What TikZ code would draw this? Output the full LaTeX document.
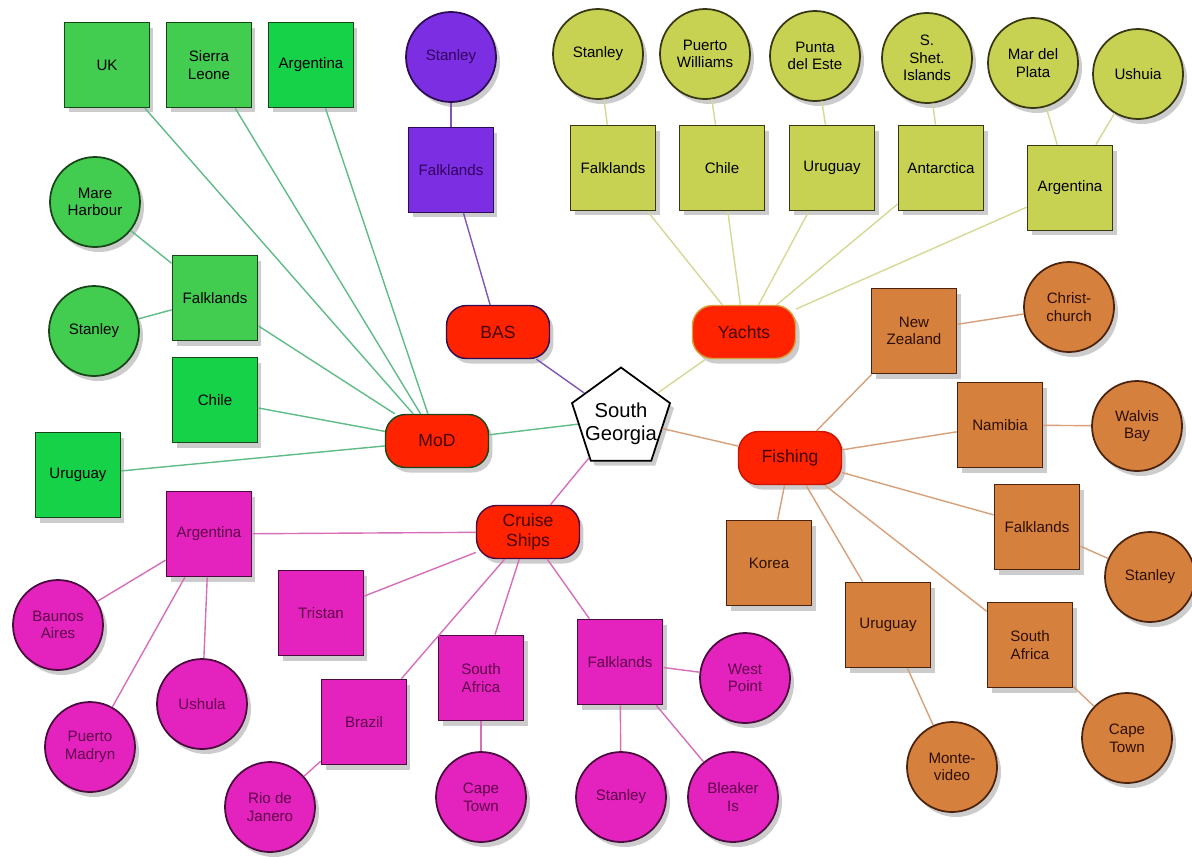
\documentclass[tikz,border=0pt]{standalone}
\usepackage{fontspec}
\setmainfont{Liberation Sans}
\usetikzlibrary{shapes.geometric,shadows}

\definecolor{hubred}{RGB}{255,35,0}
\definecolor{hubtext}{RGB}{70,0,0}
\definecolor{modfill}{RGB}{66,204,80}
\definecolor{modfillb}{RGB}{22,210,72}
\definecolor{modline}{RGB}{25,70,25}
\definecolor{modwire}{RGB}{95,188,135}
\definecolor{basfill}{RGB}{124,46,226}
\definecolor{basline}{RGB}{45,12,85}
\definecolor{baswire}{RGB}{130,85,180}
\definecolor{yfill}{RGB}{200,210,82}
\definecolor{yline}{RGB}{55,55,20}
\definecolor{ywire}{RGB}{215,215,150}
\definecolor{ffill}{RGB}{214,128,62}
\definecolor{fline}{RGB}{75,35,12}
\definecolor{fwire}{RGB}{215,160,122}
\definecolor{cfill}{RGB}{228,34,190}
\definecolor{cline}{RGB}{75,10,62}
\definecolor{cwire}{RGB}{215,110,185}

\begin{document}
\begin{tikzpicture}[x=0.02cm,y=-0.02cm,
  shade/.style={drop shadow={opacity=0.4,shadow xshift=0.8mm,shadow yshift=-1mm}},
  sq/.style={rectangle, minimum size=1.7cm, inner sep=1pt, line width=1pt, align=center,
    font=\fontsize{8.6}{10}\selectfont, shade},
  circ/.style={circle, minimum size=1.8cm, inner sep=1pt, line width=1pt, align=center,
    font=\fontsize{8.6}{10}\selectfont, shade},
  topic/.style={rectangle, rounded corners=0.4cm, minimum width=2.06cm, minimum height=1.06cm,
    fill=hubred, line width=0.8pt, align=center, text=hubtext,
    font=\fontsize{10}{11.5}\selectfont, shade},
  mod/.style={fill=modfill, draw=modline, text=black},
  modb/.style={fill=modfillb, draw=modline, text=black},
  bas/.style={fill=basfill, draw=basline, text={rgb,255:red,50;green,0;blue,95}},
  yac/.style={fill=yfill, draw=yline, text=black},
  fsh/.style={fill=ffill, draw=fline, text={rgb,255:red,45;green,15;blue,0}},
  crs/.style={fill=cfill, draw=cline, text={rgb,255:red,95;green,0;blue,75}},
  modedge/.style={draw=modwire, line width=0.8pt},
  basedge/.style={draw=baswire, line width=0.8pt},
  yedge/.style={draw=ywire, line width=0.8pt},
  fedge/.style={draw=fwire, line width=0.8pt},
  cedge/.style={draw=cwire, line width=0.8pt}]

  \path[use as bounding box] (0,0) rectangle (1192,856);

  \node[regular polygon, regular polygon sides=5, minimum size=2.06cm, inner sep=0pt, fill=white, draw=black,
    line width=1pt, font=\fontsize{11.5}{13}\selectfont, shade] (sg) at (621,419)
    {\smash{\makebox[0pt]{\raisebox{-6pt}{\begin{tabular}{@{}c@{}}South\\Georgia\end{tabular}}}}};

  \node[topic, draw=basline] (bas) at (498,332) {BAS};
  \node[topic, draw={rgb,255:red,215;green,160;blue,60}] (yachts) at (744,332) {Yachts};
  \node[topic, draw=modline] (mod) at (437,441) {MoD};
  \node[topic, draw={rgb,255:red,200;green,20;blue,0}] (fishing) at (790,458) {Fishing};
  \node[topic, draw=cline] (cruise) at (528,532) {Cruise\\Ships};

  % MoD
  \node[sq,mod] (modUK) at (107,65) {UK};
  \node[sq,mod] (modSL) at (209,65) {Sierra\\Leone};
  \node[sq,modb] (modAR) at (311,65) {Argentina};
  \node[sq,mod] (modFK) at (215,298) {Falklands};
  \node[sq,modb] (modCL) at (215,400) {Chile};
  \node[sq,modb] (modUY) at (78,475) {Uruguay};
  \node[circ,mod] (modMH) at (95,202) {Mare\\Harbour};
  \node[circ,mod] (modST) at (94,331) {Stanley};

  % BAS
  \node[circ,bas] (basST) at (451,57) {Stanley};
  \node[sq,bas] (basFK) at (451,170) {Falklands};

  % Yachts
  \node[circ,yac] (yST) at (598,54) {Stanley};
  \node[circ,yac] (yPW) at (705,54) {Puerto\\Williams};
  \node[circ,yac] (yPE) at (815,56) {Punta\\del Este};
  \node[circ,yac] (ySS) at (927,58) {S.\\Shet.\\Islands};
  \node[circ,yac] (yMP) at (1033,63) {Mar del\\Plata};
  \node[circ,yac] (yUS) at (1138,74) {Ushuia};
  \node[sq,yac] (yFK) at (613,168) {Falklands};
  \node[sq,yac] (yCL) at (722,168) {Chile};
  \node[sq,yac] (yUY) at (832,168) {Uruguay};
  \node[sq,yac] (yAN) at (941,168) {Antarctica};
  \node[sq,yac] (yAR) at (1070,188) {Argentina};

  % Fishing
  \node[sq,fsh] (fNZ) at (914,331) {New\\Zealand};
  \node[sq,fsh] (fNA) at (1000,425) {Namibia};
  \node[sq,fsh] (fFK) at (1037,527) {Falklands};
  \node[sq,fsh] (fKO) at (769,563) {Korea};
  \node[sq,fsh] (fUY) at (888,625) {Uruguay};
  \node[sq,fsh] (fSA) at (1030,645) {South\\Africa};
  \node[circ,fsh] (fCC) at (1069,307) {Christ-\\church};
  \node[circ,fsh] (fWB) at (1137,426) {Walvis\\Bay};
  \node[circ,fsh] (fST) at (1150,577) {Stanley};
  \node[circ,fsh] (fMV) at (952,767) {Monte-\\video};
  \node[circ,fsh] (fCT) at (1127,738) {Cape\\Town};

  % Cruise ships
  \node[sq,crs] (cAR) at (209,534) {Argentina};
  \node[sq,crs] (cTR) at (321,613) {Tristan};
  \node[sq,crs] (cBR) at (364,722) {Brazil};
  \node[sq,crs] (cSA) at (481,678) {South\\Africa};
  \node[sq,crs] (cFK) at (620,662) {Falklands};
  \node[circ,crs] (cBA) at (58,625) {Baunos\\Aires};
  \node[circ,crs] (cUS) at (202,704) {Ushula};
  \node[circ,crs] (cPM) at (90,747) {Puerto\\Madryn};
  \node[circ,crs] (cRJ) at (270,807) {Rio de\\Janero};
  \node[circ,crs] (cCT) at (481,797) {Cape\\Town};
  \node[circ,crs] (cST) at (621,797) {Stanley};
  \node[circ,crs] (cBI) at (733,797) {Bleaker\\Is};
  \node[circ,crs] (cWP) at (745,678) {West\\Point};

  \draw[basedge] (sg) -- (bas);
  \draw[yedge] (sg) -- (yachts);
  \draw[modedge] (sg) -- (mod);
  \draw[fedge] (sg) -- (fishing);
  \draw[cedge] (sg) -- (cruise);

  \draw[modedge] (mod) -- (modUK);
  \draw[modedge] (mod) -- (modSL);
  \draw[modedge] (mod) -- (modAR);
  \draw[modedge] (mod) -- (modFK);
  \draw[modedge] (mod) -- (modCL);
  \draw[modedge] (mod) -- (modUY);
  \draw[modedge] (modFK) -- (modMH);
  \draw[modedge] (modFK) -- (modST);

  \draw[basedge] (bas) -- (basFK);
  \draw[basedge] (basFK) -- (basST);

  \draw[yedge] (yachts) -- (yFK);
  \draw[yedge] (yachts) -- (yCL);
  \draw[yedge] (yachts) -- (yUY);
  \draw[yedge] (yachts) -- (yAN);
  \draw[yedge] (yachts) -- (yAR);
  \draw[yedge] (yFK) -- (yST);
  \draw[yedge] (yCL) -- (yPW);
  \draw[yedge] (yUY) -- (yPE);
  \draw[yedge] (yAN) -- (ySS);
  \draw[yedge] (yAR) -- (yMP);
  \draw[yedge] (yAR) -- (yUS);

  \draw[fedge] (fishing) -- (fNZ);
  \draw[fedge] (fishing) -- (fNA);
  \draw[fedge] (fishing) -- (fFK);
  \draw[fedge] (fishing) -- (fKO);
  \draw[fedge] (fishing) -- (fUY);
  \draw[fedge] (fishing) -- (fSA);
  \draw[fedge] (fNZ) -- (fCC);
  \draw[fedge] (fNA) -- (fWB);
  \draw[fedge] (fFK) -- (fST);
  \draw[fedge] (fUY) -- (fMV);
  \draw[fedge] (fSA) -- (fCT);

  \draw[cedge] (cruise) -- (cAR);
  \draw[cedge] (cruise) -- (cTR);
  \draw[cedge] (cruise) -- (cBR);
  \draw[cedge] (cruise) -- (cSA);
  \draw[cedge] (cruise) -- (cFK);
  \draw[cedge] (cAR) -- (cBA);
  \draw[cedge] (cAR) -- (cUS);
  \draw[cedge] (cAR) -- (cPM);
  \draw[cedge] (cBR) -- (cRJ);
  \draw[cedge] (cSA) -- (cCT);
  \draw[cedge] (cFK) -- (cST);
  \draw[cedge] (cFK) -- (cBI);
  \draw[cedge] (cFK) -- (cWP);
\end{tikzpicture}
\end{document}
